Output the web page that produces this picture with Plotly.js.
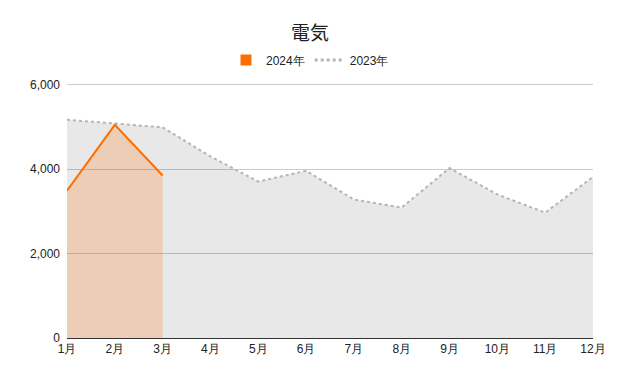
<!DOCTYPE html>
<html><head><meta charset="utf-8">
<script src="https://cdn.plot.ly/plotly-3.0.1.min.js"></script>
<style>html,body{margin:0;padding:0;background:#fff}#chart{width:620px;height:370px}</style>
</head><body><div id="chart"></div>
<script>
const months = ['1月','2月','3月','4月','5月','6月','7月','8月','9月','10月','11月','12月'];
const months2024 = ['1月','2月','3月'];
const values2024 = [3490, 5050, 3850];
const values2023 = [5170, 5080, 4990, 4300, 3705, 3960, 3280, 3090, 4025, 3400, 2970, 3815];
const seriesNames = ['2024年', '2023年'];
const yTicks = [0, 2000, 4000, 6000];

const font = "Liberation Sans, Arial, sans-serif";
const traces = [
  {x: months, y: values2023, type: 'scatter', mode: 'lines', fill: 'tozeroy',
   fillcolor: 'rgba(0,0,0,0.09)', line: {color: '#b5b5b5', width: 2, dash: 'dot'},
   showlegend: false, hoverinfo: 'skip'},
  {x: months2024, y: values2024, type: 'scatter', mode: 'lines', fill: 'tozeroy',
   fillcolor: 'rgba(255,109,0,0.22)', line: {color: '#ff6d00', width: 2},
   showlegend: false, hoverinfo: 'skip'},
  {x: [null], y: [null], type: 'scatter', mode: 'markers', name: seriesNames[0],
   marker: {symbol: 'square', size: 11, color: '#ff6d00'}},
  {x: [null], y: [null], type: 'scatter', mode: 'lines', name: seriesNames[1],
   line: {color: '#b5b5b5', width: 3, dash: 'dot'}}
];
const layout = {
  width: 620, height: 370,
  margin: {l: 67, r: 27, t: 83, b: 32},
  paper_bgcolor: '#fff', plot_bgcolor: '#fff',
  font: {family: font, size: 12, color: '#222'},
  title: {text: '電気', x: 0.5, xref: 'container', y: 0.91, yref: 'container', yanchor: 'middle',
          font: {family: "Noto Sans CJK JP, sans-serif", size: 19, color: '#222'}},
  showlegend: true,
  legend: {orientation: 'h', x: 0.5, xref: 'container', xanchor: 'center', y: 0.838, yref: 'container', yanchor: 'middle',
           font: {family: font, size: 12, color: '#222'}, itemwidth: 30, tracegroupgap: 0},
  xaxis: {type: 'category', categoryorder: 'array', categoryarray: months, range: [0, 11],
          showgrid: false, showline: true, linecolor: '#333', linewidth: 1, ticks: '', zeroline: false,
          tickfont: {family: font, size: 12, color: '#222'}, fixedrange: true},
  yaxis: {range: [0, 6040], tickvals: yTicks, tickformat: ',', showgrid: true, gridcolor: '#cccccc',
          zeroline: false, showline: false, ticks: '', ticklabelstandoff: 6, tickfont: {family: font, size: 12, color: '#222'}, fixedrange: true}
};
Plotly.newPlot('chart', traces, layout, {displayModeBar: false, staticPlot: true});
</script></body></html>
